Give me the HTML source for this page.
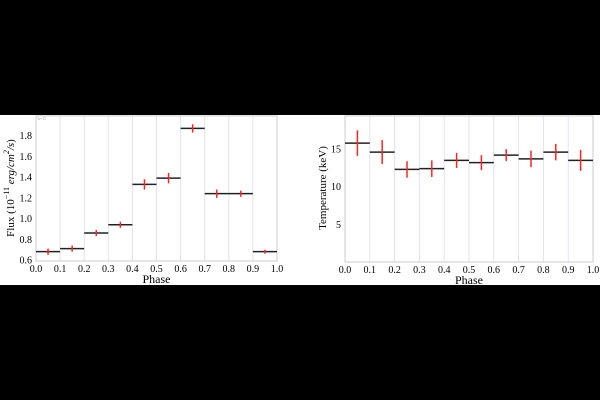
<!DOCTYPE html>
<html><head><meta charset="utf-8"><style>
html,body{margin:0;padding:0;background:#000;}
svg{display:block;font-family:"Liberation Serif",serif;}
</style></head><body>
<svg width="600" height="400">
<rect x="0" y="115" width="600" height="170" fill="#fff"/>
<g id="flux"></g>
<g id="temp"></g>
</svg>
<script>
const phaseLo = [0,0.1,0.2,0.3,0.4,0.5,0.6,0.7,0.8,0.9];
const fluxVals = [0.68,0.71,0.86,0.94,1.33,1.39,1.87,1.24,1.24,0.68];
const fluxErr = [0.03,0.03,0.03,0.03,0.05,0.05,0.04,0.04,0.03,0.02];
const tempVals = [15.8,14.6,12.3,12.4,13.5,13.2,14.2,13.7,14.6,13.5];
const tempErr = [1.7,1.6,1.1,1.1,1.0,1.0,0.8,1.1,1.1,1.4];
const xTicks = [0,0.1,0.2,0.3,0.4,0.5,0.6,0.7,0.8,0.9,1.0];
const fluxTicks = [0.6,0.8,1.0,1.2,1.4,1.6,1.8];
const tempTicks = [5,10,15];
const NS='http://www.w3.org/2000/svg';
function mk(p,t,a,txt){const e=document.createElementNS(NS,t);for(const k in a)e.setAttribute(k,a[k]);if(txt!==undefined)e.textContent=txt;p.appendChild(e);return e;}
function draw(g,cfg){
 const sx=v=>cfg.x0+(v)*(cfg.x1-cfg.x0);
 const sy=v=>cfg.yb-(v-cfg.ymin)/(cfg.ymax-cfg.ymin)*(cfg.yb-cfg.yt);
 xTicks.forEach(t=>{
  if(t>0&&t<1){const l=mk(g,'line',{x1:sx(t),x2:sx(t),y1:cfg.yt,y2:cfg.yb,stroke:'#e2e2f4','stroke-width':1});
  
  }
  const tx=mk(g,'text',{x:sx(t),y:cfg.yb+11,'font-size':10,'text-anchor':'middle'},t.toFixed(1));
  
  
 });
 const fr=mk(g,'rect',{x:cfg.x0,y:cfg.yt,width:cfg.x1-cfg.x0,height:cfg.yb-cfg.yt,fill:'none',stroke:'#ccc','stroke-width':1});
 
 
 cfg.ticks.forEach(t=>{
  const tx=mk(g,'text',{x:cfg.x0-4,y:sy(t)+3.5,'font-size':10,'text-anchor':'end'},cfg.fmt(t));
  
  
 });
 cfg.vals.forEach((v,i)=>{
  const lo=phaseLo[i];
  const h=mk(g,'line',{x1:sx(lo),x2:sx(lo+0.1),y1:sy(v),y2:sy(v),stroke:'#222','stroke-width':1.5});
  
  
  const e=mk(g,'line',{x1:sx(lo+0.05),x2:sx(lo+0.05),y1:sy(v-cfg.err[i]),y2:sy(v+cfg.err[i]),stroke:'#f22','stroke-width':1.5});
  
  
 });
 const xl=mk(g,'text',{x:(cfg.x0+cfg.x1)/2,y:cfg.yb+22,'font-size':12,'text-anchor':'middle'},'Phase');
 
 
}
const fg=document.getElementById('flux');
draw(fg,{x0:36,x1:277,yt:116,yb:261,ymin:0.59,ymax:1.99,ticks:fluxTicks,vals:fluxVals,err:fluxErr,fmt:t=>t.toFixed(1)});
const fy=mk(fg,'text',{transform:'translate(14,188) rotate(-90)','font-size':11,'text-anchor':'middle'});


fy.innerHTML='Flux (10<tspan dy="-5" font-size="8">−11</tspan><tspan dy="5"> </tspan><tspan font-style="italic">erg/cm<tspan dy="-5" font-size="8">2</tspan><tspan dy="5">/s</tspan></tspan>)';
const sc=mk(fg,'text',{x:37,y:120,'font-size':4,fill:'#999'},'1e-11');


const tg=document.getElementById('temp');
draw(tg,{x0:345,x1:593,yt:116,yb:262,ymin:0,ymax:19.4,ticks:tempTicks,vals:tempVals,err:tempErr,fmt:t=>String(t)});
const ty=mk(tg,'text',{transform:'translate(326,188) rotate(-90)','font-size':11,'text-anchor':'middle'},'Temperature (keV)');


</script>
</body></html>
